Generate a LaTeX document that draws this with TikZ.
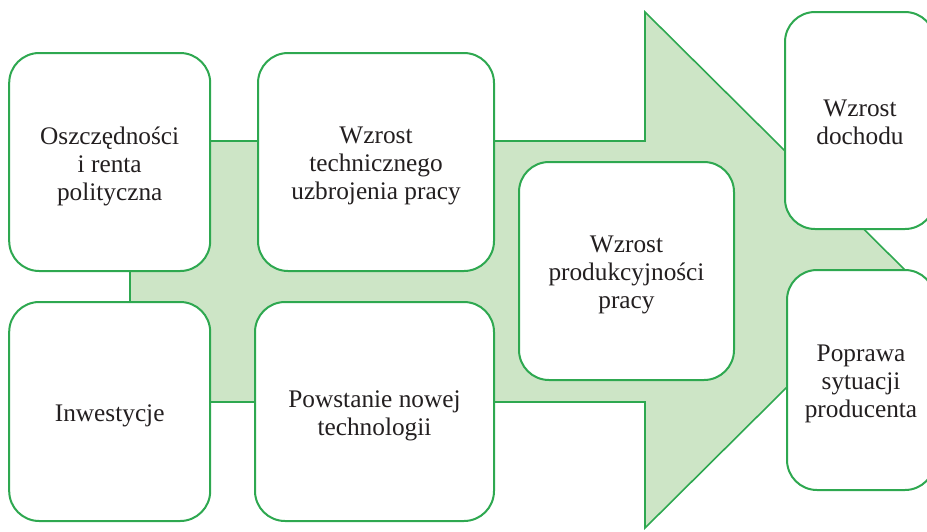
\documentclass[tikz,border=0pt]{standalone}
\usepackage{fontspec}
\setmainfont{Liberation Serif}
\definecolor{boxgreen}{RGB}{46,168,80}
\definecolor{arrowfill}{RGB}{205,229,198}
\definecolor{textdark}{RGB}{35,31,32}
\begin{document}
\begin{tikzpicture}[x=1pt,y=-1pt,
  card/.style={draw=boxgreen, line width=2pt, fill=white,
    rounded corners=30pt, inner sep=0pt},
  cardtext/.style={align=center, inner sep=0pt, text=textdark,
    font=\fontsize{25.3}{28}\selectfont},
  arrowbody/.style={draw=boxgreen, line width=1.6pt, fill=arrowfill, line join=miter}]
\useasboundingbox (0,0) rectangle (927,531);

% big block arrow behind the cards
\coordinate (s1) at (130,141);
\coordinate (s2) at (645,141);
\coordinate (h1) at (645,12);
\coordinate (tip) at (905,270);
\coordinate (h2) at (645,528);
\coordinate (s3) at (645,402);
\coordinate (s4) at (130,402);
\draw[arrowbody] (s1) -- (s2) -- (h1) -- (tip) -- (h2) -- (s3) -- (s4) -- cycle;

% cards
\node[card, minimum width=201pt, minimum height=218pt] (oszcz) at (109.7,162) {};
\node[card, minimum width=236pt, minimum height=218pt] (techn) at (376,162) {};
\node[card, minimum width=201pt, minimum height=219pt] (inwest) at (109.7,411.5) {};
\node[card, minimum width=239pt, minimum height=219pt] (nowa) at (374.5,411.5) {};
\node[card, minimum width=215pt, minimum height=218pt] (prod) at (626.5,271) {};
\node[card, minimum width=150pt, minimum height=217pt] (dochod) at (860,120.5) {};
\node[card, minimum width=148pt, minimum height=220pt] (producent) at (861,380) {};

% card texts
\node[cardtext] (oszcz-t) at ([yshift=-4pt]oszcz.center) {Oszczędności\\i renta\\polityczna};
\node[cardtext] (techn-t) at ([yshift=-4pt]techn.center) {Wzrost\\technicznego\\uzbrojenia pracy};
\node[cardtext] (inwest-t) at ([yshift=-4pt]inwest.center) {Inwestycje};
\node[cardtext] (nowa-t) at ([yshift=-4pt]nowa.center) {Powstanie nowej\\technologii};
\node[cardtext] (prod-t) at ([yshift=-4pt]prod.center) {Wzrost\\produkcyjności\\pracy};
\node[cardtext] (dochod-t) at ([yshift=-2pt]dochod.center) {Wzrost\\dochodu};
\node[cardtext] (producent-t) at ([yshift=-4pt]producent.center) {Poprawa\\sytuacji\\producenta};
\end{tikzpicture}
\end{document}
